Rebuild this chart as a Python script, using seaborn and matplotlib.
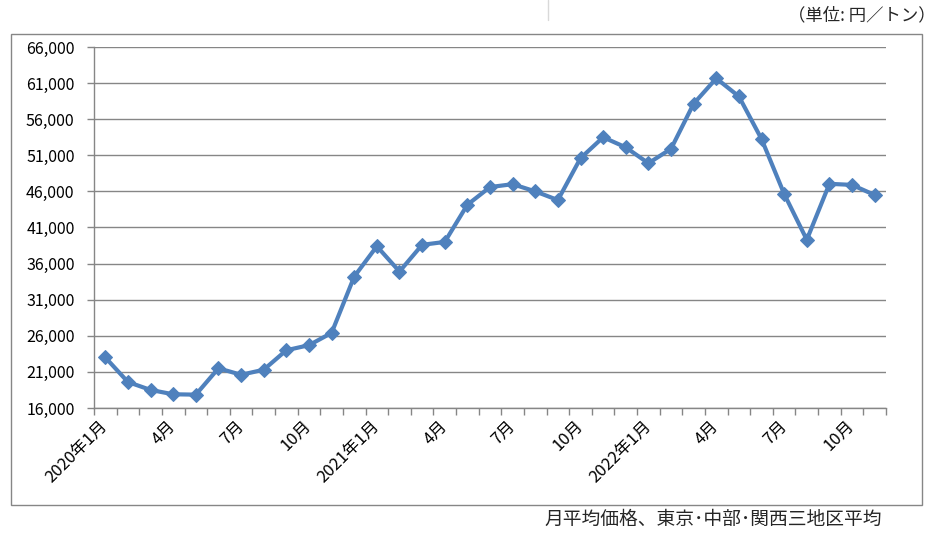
import matplotlib
matplotlib.use("Agg")
import matplotlib.pyplot as plt
import matplotlib.ticker as mticker
from matplotlib.patches import Rectangle
from matplotlib.lines import Line2D
import seaborn as sns
import pandas as pd

# ---- data ----
months = [
    "2020-01", "2020-02", "2020-03", "2020-04", "2020-05", "2020-06",
    "2020-07", "2020-08", "2020-09", "2020-10", "2020-11", "2020-12",
    "2021-01", "2021-02", "2021-03", "2021-04", "2021-05", "2021-06",
    "2021-07", "2021-08", "2021-09", "2021-10", "2021-11", "2021-12",
    "2022-01", "2022-02", "2022-03", "2022-04", "2022-05", "2022-06",
    "2022-07", "2022-08", "2022-09", "2022-10", "2022-11",
]
prices = [
    23000, 19600, 18500, 17900, 17850, 21500,
    20600, 21300, 24000, 24700, 26400, 34200,
    38400, 34900, 38600, 39000, 44150, 46600,
    47000, 46000, 44800, 50600, 53500, 52100,
    49900, 51900, 58150, 61650, 59150, 53250,
    45650, 39300, 47050, 46900, 45500,
]
tick_labels = ["2020年1月", "4月", "7月", "10月",
               "2021年1月", "4月", "7月", "10月",
               "2022年1月", "4月", "7月", "10月"]
y_ticks = [16000, 21000, 26000, 31000, 36000, 41000,
           46000, 51000, 56000, 61000, 66000]

df = pd.DataFrame({"idx": range(len(months)), "month": months, "price": prices})

sns.set_theme(style="white")
plt.rcParams["font.family"] = ["Noto Sans CJK JP", "DejaVu Sans"]

W, H = 941, 534
fig = plt.figure(figsize=(W / 100, H / 100), dpi=100)
fig.patch.set_facecolor("white")

# axes placement in pixels
L, R, T, B = 94, 886, 47, 408
ax = fig.add_axes([L / W, 1 - B / H, (R - L) / W, (B - T) / H])

line_color = "#4F81BD"
grid_color = "#868686"

sns.lineplot(data=df, x="idx", y="price", ax=ax, color=line_color,
             linewidth=3.0, marker="D", markersize=7.5,
             markeredgecolor=line_color, markerfacecolor=line_color)

ax.set_xlim(-0.5, len(months) - 0.5)
ax.set_ylim(y_ticks[0], y_ticks[-1])
ax.set_yticks(y_ticks)
ax.yaxis.set_major_formatter(mticker.FuncFormatter(lambda v, p: f"{int(v):,}"))
ax.yaxis.grid(True, color=grid_color, linewidth=1.0)
ax.xaxis.grid(False)
ax.set_axisbelow(True)

# x ticks: labels every 3 months, tick marks at category boundaries
ax.set_xticks(range(0, len(months), 3))
ax.set_xticklabels(tick_labels, rotation=45, ha="right", va="center",
                   rotation_mode="anchor", fontsize=12, color="black")
ax.set_xticks([i - 0.5 for i in range(len(months) + 1)], minor=True)
ax.tick_params(axis="x", which="major", length=0, pad=11)
ax.tick_params(axis="x", which="minor", length=5, width=1, color=grid_color,
               direction="out", bottom=True)
ax.tick_params(axis="y", which="major", length=5, width=1, color=grid_color,
               direction="out", left=True, labelsize=11.5, labelcolor="black", pad=9)

ax.set_xlabel("")
ax.set_ylabel("")
for s in ["top", "right"]:
    ax.spines[s].set_visible(False)
for s in ["left", "bottom"]:
    ax.spines[s].set_visible(True)
    ax.spines[s].set_color(grid_color)
    ax.spines[s].set_linewidth(1.0)

# outer chart frame
fig.add_artist(Rectangle((11 / W, 1 - 505 / H), (922 - 11) / W, (505 - 34) / H,
                         transform=fig.transFigure, fill=False,
                         edgecolor=grid_color, linewidth=1.0))
# small divider line at top
fig.add_artist(Line2D([548 / W, 548 / W], [1.0, 1 - 20 / H],
                      transform=fig.transFigure, color="#D9D9D9", linewidth=1.0))

fig.text(936 / W, 1 - 15 / H, "（単位: 円／トン）", ha="right", va="center",
         fontsize=12.5)
fig.text(882 / W, 1 - 519 / H, "月平均価格、東京･中部･関西三地区平均",
         ha="right", va="center", fontsize=13.5)

fig.savefig("out.png", dpi=100, facecolor="white")
